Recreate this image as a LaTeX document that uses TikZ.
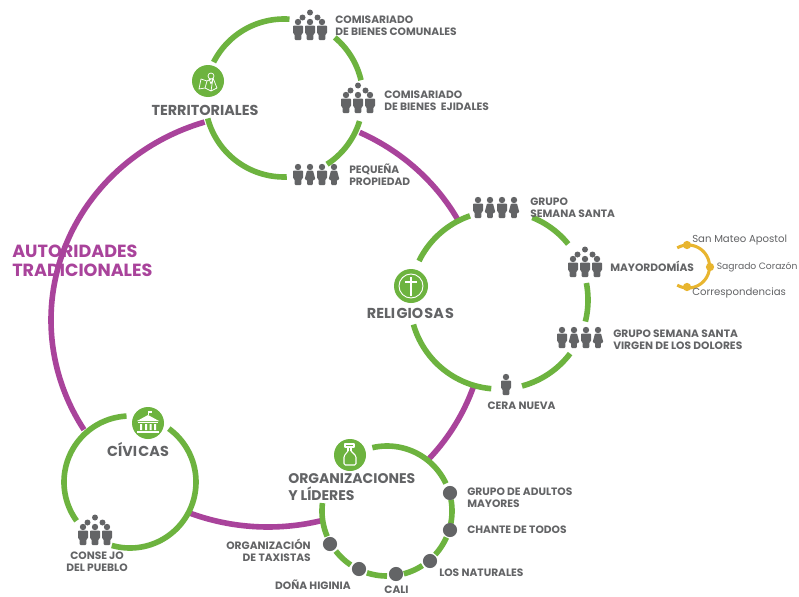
\documentclass[tikz,border=0pt]{standalone}
\usepackage{fontspec}
\setmainfont{Poppins}
\definecolor{vg}{HTML}{6DB33F}
\definecolor{mg}{HTML}{A9439B}
\definecolor{tg}{HTML}{636466}
\definecolor{yl}{HTML}{E8B52F}
\newcommand{\ringarc}[6][vg]{\draw[#1,line width=4.2pt] plot[domain=#5:#6,samples=70,smooth] ({#2+#3*cos(\x)},{#4+#3*sin(\x)});}
\newcommand{\bigarc}[2]{\draw[mg,line width=4.2pt] plot[domain=#1:#2,samples=60,smooth] ({268+217*cos(\x)},{320+207*sin(\x)});}
\tikzset{
 lab/.style={inner sep=0pt,text=tg,font=\fontsize{8}{9}\selectfont\bfseries,align=left},
 labc/.style={lab,align=center},
 labr/.style={lab,align=right},
 head/.style={inner sep=0pt,text=tg,font=\fontsize{10.8}{12}\selectfont\bfseries,align=left},
 sub/.style={inner sep=0pt,text=tg,font=\fontsize{7.6}{8}\selectfont,anchor=west},
 gdot/.style={circle,fill=tg,draw=none,minimum size=10.6pt,inner sep=0pt},
 ydot/.style={circle,fill=yl,draw=none,minimum size=6.2pt,inner sep=0pt},
 hub/.style={circle,fill=vg,draw=none,inner sep=0pt,minimum size=24pt},
 ic/.style={white,line width=0.55pt,line join=round},
 man/.pic={\fill[tg,rounded corners=0.7pt] (-5,-14.5)--(5,-14.5)--(5,-6.5)--(3.4,-6)--(3.4,0)--(-3.4,0)--(-3.4,-6)--(-5,-6.5)--cycle;\fill[tg] (0,-18) circle[radius=3.2];},
 woman/.pic={\fill[tg,rounded corners=0.7pt] (-3,-14.5)--(3,-14.5)--(5.4,-5.5)--(2.8,-5)--(2.8,0)--(-2.8,0)--(-2.8,-5)--(-5.4,-5.5)--cycle;\fill[tg] (0,-18) circle[radius=3.2];},
 crowd/.pic={\path (-12,0) pic{man} (0,0) pic{man} (12,0) pic{man};
   \fill[tg] (0,-27.5) circle[radius=3] (-7.5,-22.5) circle[radius=3] (7.5,-22.5) circle[radius=3];},
 four/.pic={\path (-18,0) pic{man} (-6,0) pic{woman} (6,0) pic{man} (18,0) pic{woman};},
}
\begin{document}
\begin{tikzpicture}[x=0.75pt,y=-0.75pt]
\useasboundingbox (0,0) rectangle (799,596);
\fill[white] (0,0) rectangle (799,596);
% purple ring
\bigarc{-212}{-107}
\bigarc{-65}{-29}
\bigarc{18}{42}
\bigarc{76}{111}
% Territoriales
\ringarc{284}{79}{98}{-153}{-86}
\ringarc{284}{79}{98}{-50}{-13}
\ringarc{284}{79}{98}{17}{57}
\ringarc{284}{79}{98}{88}{165}
% Religiosas
\ringarc{499}{89}{300}{-154}{-109}
\ringarc{499}{89}{300}{-68}{-39}
\ringarc{499}{89}{300}{-11}{14}
\ringarc{499}{89}{300}{37}{75}
\ringarc{499}{89}{300}{95}{164}
% Civicas
\ringarc{130}{66}{482}{-216}{-93}
\ringarc{130}{66}{482}{-54}{106}
% Organizaciones
\ringarc{387}{65}{511}{-103}{-25}
\ringarc{387}{65}{511}{-10}{11}
\ringarc{387}{65}{511}{24}{42}
\ringarc{387}{65}{511}{57}{75}
\ringarc{387}{65}{511}{90}{108}
\ringarc{387}{65}{511}{124}{142}
\ringarc{387}{65}{511}{157}{187}
% Yellow
\draw[yl,line width=2.3pt] plot[domain=-120:120,samples=50,smooth] ({688+21.5*cos(\x)},{266.5+21.5*sin(\x)});
\node[ydot] (y1) at (687,245) {};
\node[ydot] (y2) at (710,267) {};
\node[ydot] (y3) at (687,287) {};
% Hubs
\node[hub] (hubT) at (208,81) {};
\node[hub,minimum size=25.5pt] (hubR) at (411,286) {};
\node[hub] (hubC) at (148,423) {};
\node[hub] (hubO) at (350,455) {};
% map icon
\draw[ic] (199,89)--(201,79)--(207,81)--(213,78)--(217,88)--(211,91)--(205,88)--cycle (207,81)--(205,88) (213,78)--(211,91);
\draw[ic,fill=vg] (211,76) circle[radius=3];
\draw[ic] (209,78.5)--(211,84)--(213,78.5);
% cross icon
\draw[ic,line width=0.7pt] (hubR) circle[radius=12];
\draw[white,line width=1.3pt] (411,277)--(411,296) (405,282)--(417,282);
% building icon
\fill[white] (148,415)--(159,421)--(137,421)--cycle;
\draw[ic] (148,415)--(148,411) ;
\fill[white] (148,411) rectangle (152,413);
\fill[white] (138,422) rectangle (158,423.3);
\fill[white] (140,424) rectangle (142,430) (145,424) rectangle (147,430) (149.5,424) rectangle (151.5,430) (154,424) rectangle (156,430);
\fill[white] (137,430.5) rectangle (159,432.5);
% bottle icon
\draw[ic,line width=0.8pt] (345,444) rectangle (354,447);
\draw[ic,line width=0.8pt] (348,447)--(348,451) (351,447)--(351,451);
\draw[ic,line width=0.8pt,rounded corners=1pt] (348,451)--(344,456)--(344,465)--(356,465)--(356,456)--(351,451);
% People
\path (310,40) pic{crowd};
\path (358,113) pic{crowd};
\path (316,185) pic{four};
\path (496,218) pic{four};
\path (585,277) pic{crowd};
\path (580,348) pic{four};
\path (506,395) pic{man};
\path (95,545) pic{crowd};
% Grey dots
\node[gdot] (d1) at (450,493) {};
\node[gdot] (d2) at (450,530) {};
\node[gdot] (d3) at (430,561) {};
\node[gdot] (d4) at (396,574) {};
\node[gdot] (d5) at (359,569) {};
\node[gdot] (d6) at (330,544) {};
% Labels
\node[lab,anchor=west] (l1) at (335,26) {COMISARIADO\\DE BIENES COMUNALES};
\node[lab,anchor=west] (l2) at (384,101) {COMISARIADO\\DE BIENES\ \ EJIDALES};
\node[lab,anchor=west] (l3) at (349,174.5) {PEQUEÑA\\PROPIEDAD};
\node[lab,anchor=west] (l4) at (530,208) {GRUPO\\SEMANA SANTA};
\node[lab,anchor=west] (l5) at (610,266) {MAYORDOMÍAS};
\node[lab,anchor=west] (l6) at (613,340) {GRUPO SEMANA SANTA\\VIRGEN DE LOS DOLORES};
\node[labc] (l7) at (521.5,406) {CERA NUEVA};
\node[lab,anchor=west] (l8) at (467,498) {GRUPO DE ADULTOS\\MAYORES};
\node[lab,anchor=west] (l9) at (467,530) {CHANTE DE TODOS};
\node[lab,anchor=west] (l10) at (439,573) {LOS NATURALES};
\node[labc] (l11) at (396.5,589.5) {CALI};
\node[lab,anchor=east] (l12) at (351,585) {DOÑA HIGINIA};
\node[labr,anchor=east] (l13) at (311,550) {ORGANIZACIÓN\\DE TAXISTAS};
\node[labc] (l14) at (97,562) {CONSE\hspace{1.5pt}JO\\DEL PUEBLO};
\node[sub] (s1) at (692,240) {San Mateo Apostol};
\node[sub,font=\fontsize{6.9}{8}\selectfont] (s2) at (716.5,267) {Sagrado Corazón};
\node[sub] (s3) at (692,293) {Correspondencias};
\node[head,anchor=center] (h1) at (205,110) {TERRITORIALES};
\node[head,anchor=center] (h2) at (410.5,313) {RELI\hspace{1pt}GIO\hspace{1pt}SA\hspace{1pt}S};
\node[head,anchor=center] (h3) at (138,450) {CÍVI\hspace{1pt}CAS};
\node[head,anchor=west,font=\fontsize{10.5}{12.6}\selectfont\bfseries] (h4) at (288,487) {ORGANIZACIONES\\Y LÍDERES};
\node[head,anchor=west,text=mg,font=\fontsize{13.2}{14.6}\selectfont\bfseries] (h5) at (12,261) {AUTORIDADES\\TRADICIONALES};
\end{tikzpicture}
\end{document}
